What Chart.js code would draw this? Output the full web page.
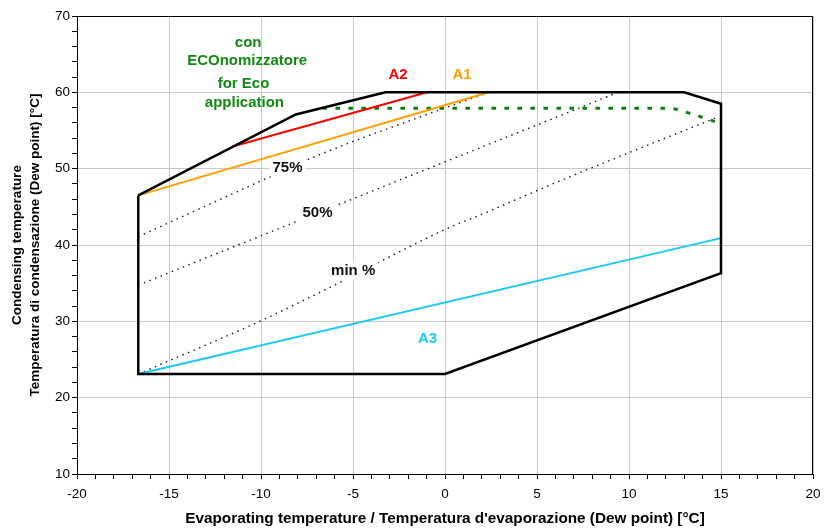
<!DOCTYPE html>
<html>
<head>
<meta charset="utf-8">
<script src="https://cdn.jsdelivr.net/npm/chart.js@4"></script>
<style>
  html, body { margin: 0; background: #fff; }
  #wrap { width: 824px; height: 528px; }
</style>
</head>
<body>
<div id="wrap"><canvas id="chart"></canvas></div>
<script>
// operating envelope (evaporating / condensing, °C)
const envelopeX = [-16.67, -8.11, -3.23, 13.0, 15.0, 15.0, 0.0, -16.67, -16.67];
const envelopeY = [46.5, 57.1, 60.0, 60.0, 58.5, 36.3, 23.1, 23.1, 46.5];

const a1X = [-16.67, 2.38];
const a1Y = [46.5, 60.0];
const a2X = [-11.55, -0.97];
const a2Y = [52.9, 60.0];
const a3X = [-16.67, 15.0];
const a3Y = [23.1, 40.9];

// economizer limit (green dashed)
const ecoX = [-6.66, 12.2, 13.5, 15.0];
const ecoY = [57.9, 57.9, 57.1, 55.9];

// capacity lines (dotted)
const pct75X = [-16.67, -10.55, -6.85, -1.33, 2.38];
const pct75Y = [41.1, 47.8, 51.8, 56.8, 60.0];
const pct50X = [-16.67, 9.41];
const pct50Y = [34.75, 60.0];
const pctMinX = [-16.67, -10.01, -6.48, -0.07, 2.11, 6.36, 14.86];
const pctMinY = [23.1, 30.07, 34.18, 41.95, 44.14, 48.51, 56.8];

const xTitle = "Evaporating temperature / Temperatura d'evaporazione (Dew point) [°C]";
const yTitle = ['Condensing temperature', 'Temperatura di condensazione (Dew point) [°C]'];

// text notes placed on the plot: text, x, y, colour, white box
const notes = [
    ['con', -10.7, 66.45, '#128a12', false],
    ['ECOnomizzatore', -10.75, 64.1, '#128a12', false],
    ['for Eco', -10.95, 61.1, '#128a12', false],
    ['application', -10.9, 58.65, '#128a12', false],
    ['A2', -2.55, 62.3, '#ff0000', false],
    ['A1', 0.93, 62.3, '#ffa000', false],
    ['A3', -0.95, 27.7, '#1ec8f5', false],
    ['75%', -8.56, 50.15, '#111', true],
    ['50%', -6.93, 44.25, '#111', true],
    ['min %', -4.99, 36.6, '#111', true]
];

const pts = (xs, ys) => xs.map((x, i) => ({ x: x, y: ys[i] }));

const FONT = "'Liberation Sans', Arial, sans-serif";

const notesPlugin = {
    id: 'notes',
    beforeDatasetsDraw(chart) {
        // top and right frame of the plot area
        const { ctx, chartArea: a } = chart;
        ctx.save();
        ctx.strokeStyle = '#000';
        ctx.lineWidth = 1;
        ctx.beginPath();
        ctx.moveTo(a.left, a.top + 0.5);
        ctx.lineTo(a.right - 0.5, a.top + 0.5);
        ctx.lineTo(a.right - 0.5, a.bottom);
        ctx.stroke();
        ctx.restore();
    },
    afterDatasetsDraw(chart) {
        const ctx = chart.ctx;
        const sx = chart.scales.x, sy = chart.scales.y;
        ctx.save();
        ctx.font = 'bold 15px ' + FONT;
        ctx.textAlign = 'center';
        ctx.textBaseline = 'middle';
        notes.forEach(([text, x, y, color, box]) => {
            const px = sx.getPixelForValue(x);
            const py = sy.getPixelForValue(y);
            if (box) {
                const w = ctx.measureText(text).width + 6;
                ctx.fillStyle = '#fff';
                ctx.fillRect(px - w / 2, py - 9, w, 18);
            }
            ctx.fillStyle = color;
            ctx.fillText(text, px, py);
        });
        ctx.restore();
    }
};

const dotted = (data) => ({
    data: data,
    borderColor: '#1a1a1a',
    borderWidth: 1.4,
    borderDash: [1.5, 4.5],
    cubicInterpolationMode: 'monotone',
    showLine: true,
    pointRadius: 0
});

new Chart(document.getElementById('chart').getContext('2d'), {
    type: 'scatter',
    data: {
        datasets: [
            { data: pts(envelopeX, envelopeY), borderColor: '#000', borderWidth: 2.5, showLine: true, pointRadius: 0, tension: 0 },
            { data: pts(a2X, a2Y), borderColor: '#ff0000', borderWidth: 2, showLine: true, pointRadius: 0 },
            { data: pts(a1X, a1Y), borderColor: '#ffa000', borderWidth: 2, showLine: true, pointRadius: 0 },
            { data: pts(a3X, a3Y), borderColor: '#1ec8f5', borderWidth: 2, showLine: true, pointRadius: 0 },
            { data: pts(ecoX, ecoY), borderColor: '#0a7d0a', borderWidth: 3, borderDash: [4.5, 8.5], cubicInterpolationMode: 'monotone', showLine: true, pointRadius: 0 },
            dotted(pts(pct75X, pct75Y)),
            dotted(pts(pct50X, pct50Y)),
            dotted(pts(pctMinX, pctMinY))
        ]
    },
    options: {
        responsive: true,
        maintainAspectRatio: false,
        animation: false,
        layout: { padding: { top: 16, right: 11, left: 0, bottom: 0 } },
        plugins: {
            legend: { display: false },
            tooltip: { enabled: false }
        },
        scales: {
            x: {
                type: 'linear',
                min: -20,
                max: 20,
                ticks: {
                    stepSize: 1,
                    autoSkip: false,
                    maxRotation: 0,
                    padding: 7,
                    color: '#000',
                    font: { size: 13.5, family: FONT },
                    callback: v => (Math.abs(v % 5) < 1e-6 ? v : '')
                },
                grid: {
                    color: c => (c.tick && Math.abs(c.tick.value % 5) < 1e-6 ? '#c8c8c8' : 'rgba(0,0,0,0)'),
                    tickColor: '#000',
                    tickLength: 5
                },
                border: { color: '#000', width: 1 },
                title: {
                    display: true,
                    text: xTitle,
                    color: '#000',
                    font: { size: 15.3, weight: 'bold', family: FONT },
                    padding: { top: 2, bottom: 0 }
                },
                afterFit: s => {
                    s.height = 54;
                    s.paddingLeft = 0;
                    s.paddingRight = 0;
                }
            },
            y: {
                type: 'linear',
                min: 10,
                max: 70,
                ticks: {
                    stepSize: 2,
                    autoSkip: false,
                    padding: 2,
                    color: '#000',
                    font: { size: 13.5, family: FONT },
                    callback: v => (Math.abs(v % 10) < 1e-6 ? v : '')
                },
                grid: {
                    color: c => (c.tick && Math.abs(c.tick.value % 10) < 1e-6 ? '#c8c8c8' : 'rgba(0,0,0,0)'),
                    tickColor: '#000',
                    tickLength: 5
                },
                border: { color: '#000', width: 1 },
                title: {
                    display: true,
                    text: yTitle,
                    color: '#000',
                    font: { size: 13.5, weight: 'bold', family: FONT, lineHeight: 1.34 },
                    padding: { top: 8, bottom: 0 }
                },
                afterFit: s => { s.width = 77; }
            }
        }
    },
    plugins: [notesPlugin]
});
</script>
</body>
</html>
